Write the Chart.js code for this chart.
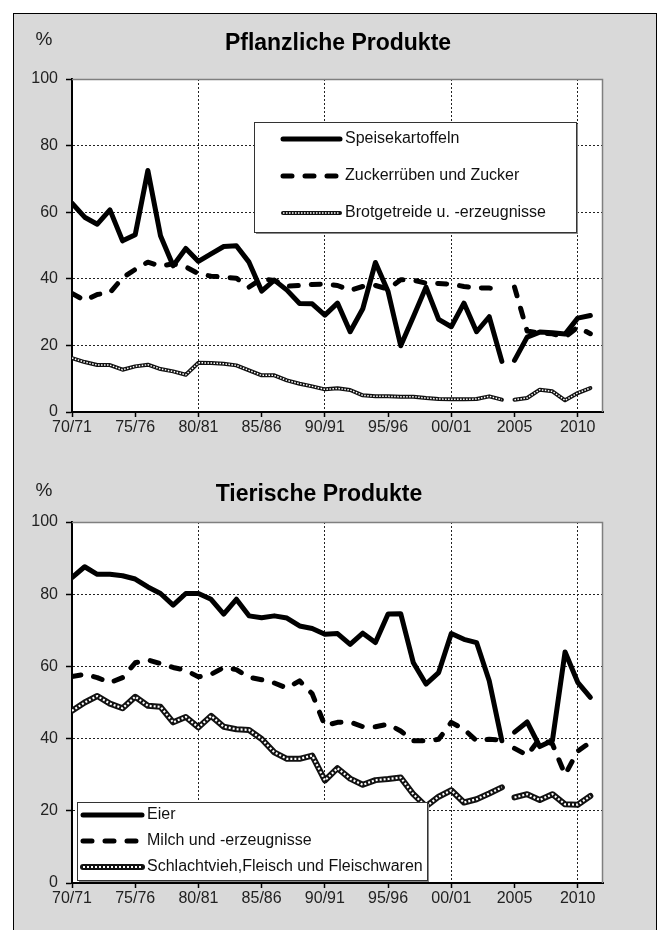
<!DOCTYPE html>
<html><head><meta charset="utf-8">
<script src="https://cdn.jsdelivr.net/npm/chart.js@4.4.0/dist/chart.umd.min.js"></script>
<style>
html,body{margin:0;padding:0;background:#fff;width:660px;height:930px;overflow:hidden;font-family:'Liberation Sans',Arial,sans-serif;}
#frame{position:absolute;left:13px;top:13px;width:642px;height:930px;background:#d9d9d9;border:1px solid #000;}
.cv{position:absolute;left:0;width:660px;height:465px;}
.title{position:absolute;font-weight:bold;font-size:23px;color:#000;transform:translate(-50%,-50%);white-space:nowrap;}
.pct{position:absolute;font-size:19px;color:#222;transform:translate(-50%,-50%);}
</style></head><body>
<div id="frame"></div>
<canvas id="c1" class="cv" style="top:0" width="660" height="465"></canvas>
<canvas id="c2" class="cv" style="top:465px" width="660" height="465"></canvas>
<div class="pct" style="left:44px;top:39px">%</div>
<div class="title" style="left:338px;top:42px">Pflanzliche Produkte</div>
<div class="pct" style="left:44px;top:490px">%</div>
<div class="title" style="left:319px;top:493px">Tierische Produkte</div>
<script>
// ---- data ----
const categories = ["70/71","71/72","72/73","73/74","74/75","75/76","76/77","77/78","78/79","79/80",
  "80/81","81/82","82/83","83/84","84/85","85/86","86/87","87/88","88/89","89/90",
  "90/91","91/92","92/93","93/94","94/95","95/96","96/97","97/98","98/99","99/00",
  "00/01","01/02","02/03","03/04","04/05","2005","2006","2007","2008","2009","2010","2011"];
const tickIndices = [0,5,10,15,20,25,30,35,40];
const breakAfter = categories.indexOf("04/05");

const speisekartoffeln = [62.7,58.5,56.4,60.7,51.4,53.2,72.5,52.9,43.9,49.1,45.2,47.5,49.7,49.9,45,36.3,39.6,36.6,32.6,32.5,29.1,32.7,24.1,31,44.9,36.2,19.9,28.6,37.5,27.8,25.6,32.7,24.1,28.6,15.2,15.5,22.5,24,23.8,23.4,28.2,29];
const zucker = [35.6,33.5,35.3,35.8,40.3,42.8,45,43.8,44.5,43.6,41.5,40.8,40.5,40.2,37.5,40,39.5,37.8,38,38.3,38.4,38,36.5,37.7,38,36.9,39.7,39.6,38.7,38.6,38.4,37.7,37.3,37.2,37.1,37.5,24.3,23.7,23.5,22.5,25.5,23.5];
const brotgetreide = [16.2,15,14.1,14.1,12.7,13.7,14.2,12.9,12.2,11.2,14.8,14.7,14.5,14,12.5,11,11,9.5,8.5,7.7,6.8,7.1,6.6,5,4.7,4.7,4.6,4.6,4.2,3.9,3.8,3.8,3.9,4.7,3.7,3.7,4.2,6.7,6.2,3.5,5.7,7.2];

const eier = [84.6,87.6,85.5,85.5,85.1,84.2,82,80.2,77,80.2,80.2,78.6,74.5,78.6,74,73.5,74,73.4,71.2,70.5,68.9,69.1,66.1,69.2,66.6,74.5,74.6,61,55.1,58.3,69.1,67.5,66.6,56,39.4,41.8,44.6,37.8,39.5,64,55.6,51.4];
const milch = [57.2,57.8,56.9,55.5,56.9,61,61.8,60.8,59.7,58.9,57.1,57.8,59.7,59.1,57,56.3,55.4,54,56,52.4,43.6,44.5,44.6,43.3,43.3,44,42.1,39.4,39.4,39.8,44.5,42.6,39.4,39.8,39.6,37.3,35.4,40,38.5,30,36.5,39];
const schlachtvieh = [47.7,50,51.8,49.7,48.4,51.6,49.1,48.8,44.5,46,43.1,46.3,43.3,42.6,42.4,39.9,36.2,34.4,34.4,35.3,28.4,31.8,28.9,27.2,28.5,28.8,29.2,24.6,21.2,23.9,25.7,22.3,23.2,24.8,26.5,23.7,24.6,23,24.6,21.8,21.7,24.1];

const yTicks = [0,20,40,60,80,100];

// ---- helpers ----
const FONT = "'Liberation Sans', Arial, sans-serif";
Chart.defaults.font.family = FONT;
Chart.defaults.font.size = 16;
Chart.defaults.color = '#222';

function pts(arr){ return arr.map((v,i)=>({x:i,y:v})); }
const gapSeg = { borderColor: c => (c.p0DataIndex === breakAfter ? 'rgba(0,0,0,0)' : undefined) };

function line(label, arr, style){
  return Object.assign({label, data: pts(arr), pointRadius:0, pointHoverRadius:0, tension:0,
    borderJoinStyle:'round', borderCapStyle:'round', fill:false, segment: gapSeg}, style);
}

const framePlugin = {
  id:'framePlugin',
  beforeDraw(chart){
    const {ctx, chartArea:a} = chart;
    ctx.save(); ctx.fillStyle='#fff'; ctx.fillRect(a.left,a.top,a.right-a.left,a.bottom-a.top); ctx.restore();
  },
  afterDatasetsDraw(chart){
    const {ctx, chartArea:a} = chart;
    ctx.save(); ctx.strokeStyle='#7f7f7f'; ctx.lineWidth=1.5; ctx.setLineDash([]);
    ctx.beginPath(); ctx.moveTo(a.left, a.top+0.5); ctx.lineTo(a.right-0.5, a.top+0.5); ctx.lineTo(a.right-0.5, a.bottom); ctx.stroke();
    ctx.restore();
  }
};

const boxLegend = {
  id:'boxLegend',
  afterDatasetsDraw(chart, args, o){
    if(!o || !o.rows) return;
    const ctx = chart.ctx;
    ctx.save();
    ctx.fillStyle='#8a8a8a'; ctx.fillRect(o.x+2, o.y+2, o.w, o.h);
    ctx.fillStyle='#fff'; ctx.fillRect(o.x, o.y, o.w, o.h);
    ctx.strokeStyle='#333'; ctx.lineWidth=1; ctx.strokeRect(o.x+0.5, o.y+0.5, o.w, o.h);
    const dss = chart.data.datasets;
    let r = 0;
    const rowOf = {};
    dss.forEach((ds, i) => {
      if (ds.overlayOf !== undefined) return;
      rowOf[i] = o.rows[r++];
    });
    const drawSample = (ds, yy) => {
      ctx.beginPath();
      ctx.setLineDash(ds.borderDash || []);
      ctx.lineWidth = ds.borderWidth; ctx.strokeStyle = ds.borderColor;
      ctx.lineCap = ds.borderCapStyle || 'butt';
      ctx.moveTo(o.sx0, yy); ctx.lineTo(o.sx1, yy); ctx.stroke();
    };
    dss.forEach((ds, i) => { if (ds.overlayOf === undefined) drawSample(ds, rowOf[i]); });
    dss.forEach((ds) => { if (ds.overlayOf !== undefined) drawSample(ds, rowOf[ds.overlayOf]); });
    ctx.setLineDash([]);
    ctx.fillStyle = '#111'; ctx.font = "16px " + FONT; ctx.textBaseline = 'middle'; ctx.textAlign='left';
    dss.forEach((ds, i) => { if (ds.overlayOf === undefined) ctx.fillText(ds.label, o.tx, rowOf[i]); });
    ctx.restore();
  }
};

function options(padTop, xAxisH, legend){
  return {
    responsive:false, animation:false, events:[],
    layout:{padding:{left:0, right:57, top:padTop, bottom:0}},
    plugins:{legend:{display:false}, tooltip:{enabled:false}, title:{display:false}, boxLegend: legend},
    scales:{
      x:{type:'linear', min:0, max:42,
        afterBuildTicks: s => { s.ticks = tickIndices.map(v => ({value:v})); },
        afterFit: s => { s.height = xAxisH; },
        ticks:{callback: v => (categories[v] !== undefined ? categories[v] : ''), autoSkip:false, maxRotation:0, minRotation:0, color:'#222', padding:1},
        grid:{color: c => (c.tick && c.tick.value > 0 && c.tick.value % 10 === 0) ? '#222' : 'rgba(0,0,0,0)',
              tickColor:'#000', tickLength:5, lineWidth:1, tickWidth:1.5, tickBorderDash:[]},
        border:{color:'#000', width:2, dash:[2,2]}
      },
      y:{min:0, max:100,
        afterBuildTicks: s => { s.ticks = yTicks.map(v => ({value:v})); },
        afterFit: s => { s.width = 72; },
        ticks:{color:'#222', padding:8},
        grid:{color: c => (c.tick && c.tick.value > 0 && c.tick.value < 100) ? '#222' : 'rgba(0,0,0,0)',
              tickColor:'#000', tickLength:6, lineWidth:1, tickWidth:1.5, tickBorderDash:[]},
        border:{color:'#000', width:2, dash:[2,2]}
      }
    }
  };
}

const dashStyle = {borderColor:'#000', borderWidth:5, borderDash:[9,13], borderCapStyle:'round'};

new Chart(document.getElementById('c1'), {
  type:'line',
  data:{ datasets:[
    line('Speisekartoffeln', speisekartoffeln, {borderColor:'#000', borderWidth:5, order:2}),
    line('Zuckerrüben und Zucker', zucker, Object.assign({order:3}, dashStyle)),
    line('Brotgetreide u. -erzeugnisse', brotgetreide, {borderColor:'#111', borderWidth:4, order:1}),
    Object.assign(line('Brotgetreide u. -erzeugnisse', brotgetreide, {borderColor:'#fff', borderWidth:1.5, borderDash:[1.5,1.5], borderCapStyle:'butt', order:0}), {overlayOf:2})
  ]},
  options: options(79, 53, {x:254, y:122, w:322, h:110, rows:[139,176,213], sx0:283, sx1:340, tx:345}),
  plugins:[framePlugin, boxLegend]
});

new Chart(document.getElementById('c2'), {
  type:'line',
  data:{ datasets:[
    line('Eier', eier, {borderColor:'#000', borderWidth:5, order:2}),
    line('Milch und -erzeugnisse', milch, Object.assign({order:3}, dashStyle)),
    line('Schlachtvieh,Fleisch und Fleischwaren', schlachtvieh, {borderColor:'#111', borderWidth:6, order:1}),
    Object.assign(line('Schlachtvieh,Fleisch und Fleischwaren', schlachtvieh, {borderColor:'#fff', borderWidth:2.2, borderDash:[2,2], borderCapStyle:'butt', order:0}), {overlayOf:2})
  ]},
  options: options(57, 47, {x:77, y:337, w:350, h:78, rows:[350,376,402], sx0:83, sx1:142, tx:147}),
  plugins:[framePlugin, boxLegend]
});
</script>
</body></html>
